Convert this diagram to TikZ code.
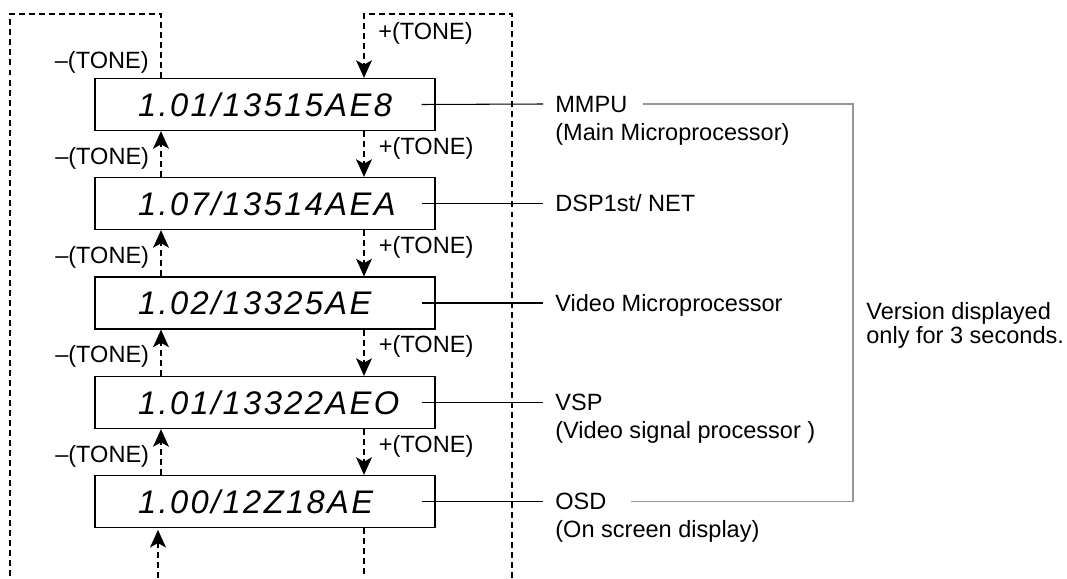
\documentclass[tikz,border=0pt]{standalone}
\usepackage{fontspec}
\setmainfont{Liberation Sans}
\newfontfamily\dispfont[LetterSpace=7.3]{Liberation Sans}
\usepackage{xcolor}
\usetikzlibrary{arrows.meta, positioning}
\definecolor{bracketgray}{RGB}{150, 150, 150}

\begin{document}
\begin{tikzpicture}[
    x=0.02cm, y=-0.02cm,
    disp/.style={rectangle, draw=black, line width=0.7pt, minimum height=29.6pt, text width=144.5pt, inner xsep=24.5pt, inner ysep=0pt, text height=13.3pt, text depth=0pt, align=left, font=\dispfont\itshape\fontsize{18.6}{22}\selectfont},
    lbl/.style={inner sep=0pt, text height=9.8pt, text depth=0.4pt, font=\fontsize{13.4}{15.4}\selectfont},
    tone/.style={inner sep=0pt, font=\fontsize{13.4}{15.4}\selectfont},
    dashline/.style={line width=1pt, dash pattern=on 3.4pt off 2.3pt},
    arrow/.style={dashline, -{Stealth[length=10pt, width=9pt, inset=2.5pt]}},
    leader/.style={line width=0.6pt},
    bracket/.style={line width=0.7pt, draw=bracketgray}
]
    \useasboundingbox (0, 0) rectangle (1067, 578);

    % Version displays
    \node[disp] (v1) at (265, 104.5) {1.01/13515AE8};
    \node[disp] (v2) at (265, 203.5) {1.07/13514AEA};
    \node[disp] (v3) at (265, 303) {1.02/13325AE};
    \node[disp] (v4) at (265, 402.5) {1.01/13322AEO};
    \node[disp] (v5) at (265, 501.5) {1.00/12Z18AE};

    % Columns and loop corners
    \coordinate (mx) at (161, 0);
    \coordinate (px) at (364, 0);
    \coordinate (tl) at (10, 14);
    \coordinate (tm) at (161, 14);
    \coordinate (tp) at (364, 14);
    \coordinate (tr) at (512, 14);
    \coordinate (bl) at (10, 578);
    \coordinate (br) at (512, 578);
    \coordinate (bp) at (364, 578);
    \coordinate (bm) at (158, 578);

    % Wrap-around loops
    \draw[dashline] (v1.north -| mx) -- (tm) -- (tl) -- (bl);
    \draw[arrow] (br) -- (tr) -- (tp) -- (v1.north -| px);
    \draw[dashline] (v5.south -| px) -- (bp);
    \draw[arrow, shorten >=1pt] (bm) -- (v5.south -| bm);
    \node[tone, anchor=east] (m0) at (149, 62) {–(TONE)};
    \node[tone, anchor=west] (p0) at (378, 33) {+(TONE)};

    % Up arrows
    \draw[arrow] (v2.north -| mx) -- node[tone, left=6.3pt, yshift=-2.3pt] {–(TONE)} (v1.south -| mx);
    \draw[arrow] (v3.north -| mx) -- node[tone, left=6.3pt, yshift=-2.3pt] {–(TONE)} (v2.south -| mx);
    \draw[arrow] (v4.north -| mx) -- node[tone, left=6.3pt, yshift=-2.3pt] {–(TONE)} (v3.south -| mx);
    \draw[arrow] (v5.north -| mx) -- node[tone, left=6.3pt, yshift=-2.3pt] {–(TONE)} (v4.south -| mx);

    % Down arrows
    \draw[arrow] (v1.south -| px) -- node[tone, right=8pt, yshift=3.4pt] {+(TONE)} (v2.north -| px);
    \draw[arrow] (v2.south -| px) -- node[tone, right=8pt, yshift=3.4pt] {+(TONE)} (v3.north -| px);
    \draw[arrow] (v3.south -| px) -- node[tone, right=8pt, yshift=3.4pt] {+(TONE)} (v4.north -| px);
    \draw[arrow] (v4.south -| px) -- node[tone, right=8pt, yshift=3.4pt] {+(TONE)} (v5.north -| px);

    % Processor names
    \node[lbl, anchor=west] (mmpu) at (555, 104) {MMPU};
    \node[lbl, below right=5.2pt and 0pt of mmpu.south west] (mmpu2) {(Main Microprocessor)};
    \node[lbl, anchor=west] (dsp) at (555, 203.5) {DSP1st/ NET};
    \node[lbl, anchor=west] (vmp) at (555, 303) {Video Microprocessor};
    \node[lbl, anchor=west] (vsp) at (555, 402.5) {VSP};
    \node[lbl, below right=5.2pt and 0pt of vsp.south west] (vsp2) {(Video signal processor )};
    \node[lbl, anchor=west] (osd) at (555, 501.5) {OSD};
    \node[lbl, below right=5.2pt and 0pt of osd.south west] (osd2) {(On screen display)};

    % Leaders
    \draw[leader] ([xshift=-8pt]v1.east) -- ([xshift=-6.8pt]mmpu.west);
    \draw[leader] ([xshift=-8pt]v2.east) -- ([xshift=-6.8pt]dsp.west);
    \draw[leader] ([xshift=-8pt]v3.east) -- ([xshift=-6.8pt]vmp.west);
    \draw[leader] ([xshift=-8pt]v4.east) -- ([xshift=-6.8pt]vsp.west);
    \draw[leader] ([xshift=-8pt]v5.east) -- ([xshift=-6.8pt]osd.west);

    % Bracket and note
    \coordinate (bx) at (853, 300);
    \draw[bracket] ([xshift=9pt]mmpu.east) -| (bx) |- ([xshift=13.6pt]osd.east);
    \node[anchor=west, align=left, inner sep=0pt, font=\fontsize{13.4}{13.7}\selectfont] (note) at (866, 325) {Version displayed\\only for 3 seconds.};
\end{tikzpicture}
\end{document}
